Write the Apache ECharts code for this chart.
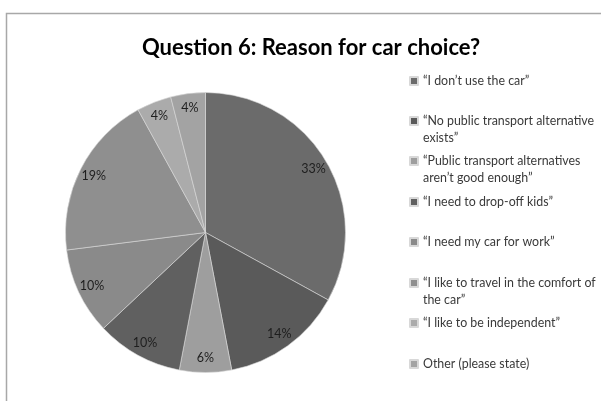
<!DOCTYPE html>
<html>
<head>
<meta charset="utf-8">
<style>
  html, body { margin: 0; padding: 0; background: #fff; }
  #chart { width: 601px; height: 401px; }
</style>
<script src="https://cdn.jsdelivr.net/npm/echarts@6/dist/echarts.min.js"></script>
</head>
<body>
<div id="chart"></div>
<script>
// Survey answers: reason for choosing the car
const reasons = [
  '“I don’t use the car”',
  '“No public transport alternative exists”',
  '“Public transport alternatives aren’t good enough”',
  '“I need to drop-off kids”',
  '“I need my car for work”',
  '“I like to travel in the comfort of the car”',
  '“I like to be independent”',
  'Other (please state)'
];
const shares = [33, 14, 6, 10, 10, 19, 4, 4];
const sliceColors = ['#6b6b6b', '#5a5a5a', '#9e9e9e', '#606060', '#8a8a8a', '#8f8f8f', '#ababab', '#a3a3a3'];

const FONT = 'Lato, "Open Sans", sans-serif';
const CX = 205.5, CY = 232.5, R = 140;

// Greedy word wrap for the legend entries
function wrap(text, maxChars) {
  const words = text.split(' ');
  const lines = [];
  let cur = '';
  words.forEach(w => {
    const next = cur ? cur + ' ' + w : w;
    if (next.length > maxChars && cur) { lines.push(cur); cur = w; }
    else cur = next;
  });
  if (cur) lines.push(cur);
  return lines;
}

const LINE_H = 16.5;
const legendCenters = [81, 121, 161, 202, 242, 283, 323, 364];
const legends = reasons.map((name, i) => {
  const lines = wrap(name, 35);
  // A blank leading line keeps the marker level with the first text line
  const text = lines.length > 1 ? '\n' + lines.join('\n') : lines[0];
  const blockH = (lines.length > 1 ? lines.length + 1 : 1) * LINE_H;
  return {
    data: [name],
    orient: 'vertical',
    left: 409,
    top: legendCenters[i] - blockH / 2,
    padding: 0,
    itemWidth: 8,
    itemHeight: 8,
    icon: 'rect',
    selectedMode: false,
    formatter: () => text,
    textStyle: { fontFamily: FONT, fontSize: 12.4, color: '#3a3a3a', lineHeight: LINE_H }
  };
});

const pieData = reasons.map((name, i) => ({
  name: name,
  value: shares[i],
  itemStyle: { color: sliceColors[i] }
}));

const chart = echarts.init(document.getElementById('chart'), null, { renderer: 'canvas' });
chart.setOption({
  animation: false,
  backgroundColor: '#ffffff',
  title: {
    text: 'Question 6: Reason for car choice?',
    left: 306,
    top: 32,
    textAlign: 'center',
    textStyle: { fontFamily: FONT, fontSize: 22, fontWeight: 'bold', color: '#000' }
  },
  graphic: [{
    type: 'rect',
    silent: true,
    shape: { x: 6.5, y: 13.5, width: 700, height: 500 },
    style: { fill: 'none', stroke: '#a8a8a8', lineWidth: 1.5 }
  }],
  legend: legends,
  series: [
    {
      type: 'pie',
      center: [CX, CY],
      radius: [0, R],
      startAngle: 90,
      clockwise: true,
      label: { show: false },
      labelLine: { show: false },
      emphasis: { disabled: true },
      itemStyle: { borderColor: '#d8d8d8', borderWidth: 0.6 },
      data: pieData
    },
    {
      // transparent outer ring that carries the percentage labels
      type: 'pie',
      center: [CX, CY],
      radius: [R * 0.75, R],
      startAngle: 90,
      clockwise: true,
      silent: true,
      itemStyle: { color: 'rgba(0,0,0,0)' },
      label: {
        show: true,
        position: 'inside',
        formatter: p => p.value + '%',
        fontFamily: FONT,
        fontSize: 12.5,
        color: '#1e1e1e'
      },
      labelLine: { show: false },
      emphasis: { disabled: true },
      data: reasons.map((name, i) => ({ name: name, value: shares[i] }))
    }
  ]
});
</script>
</body>
</html>
